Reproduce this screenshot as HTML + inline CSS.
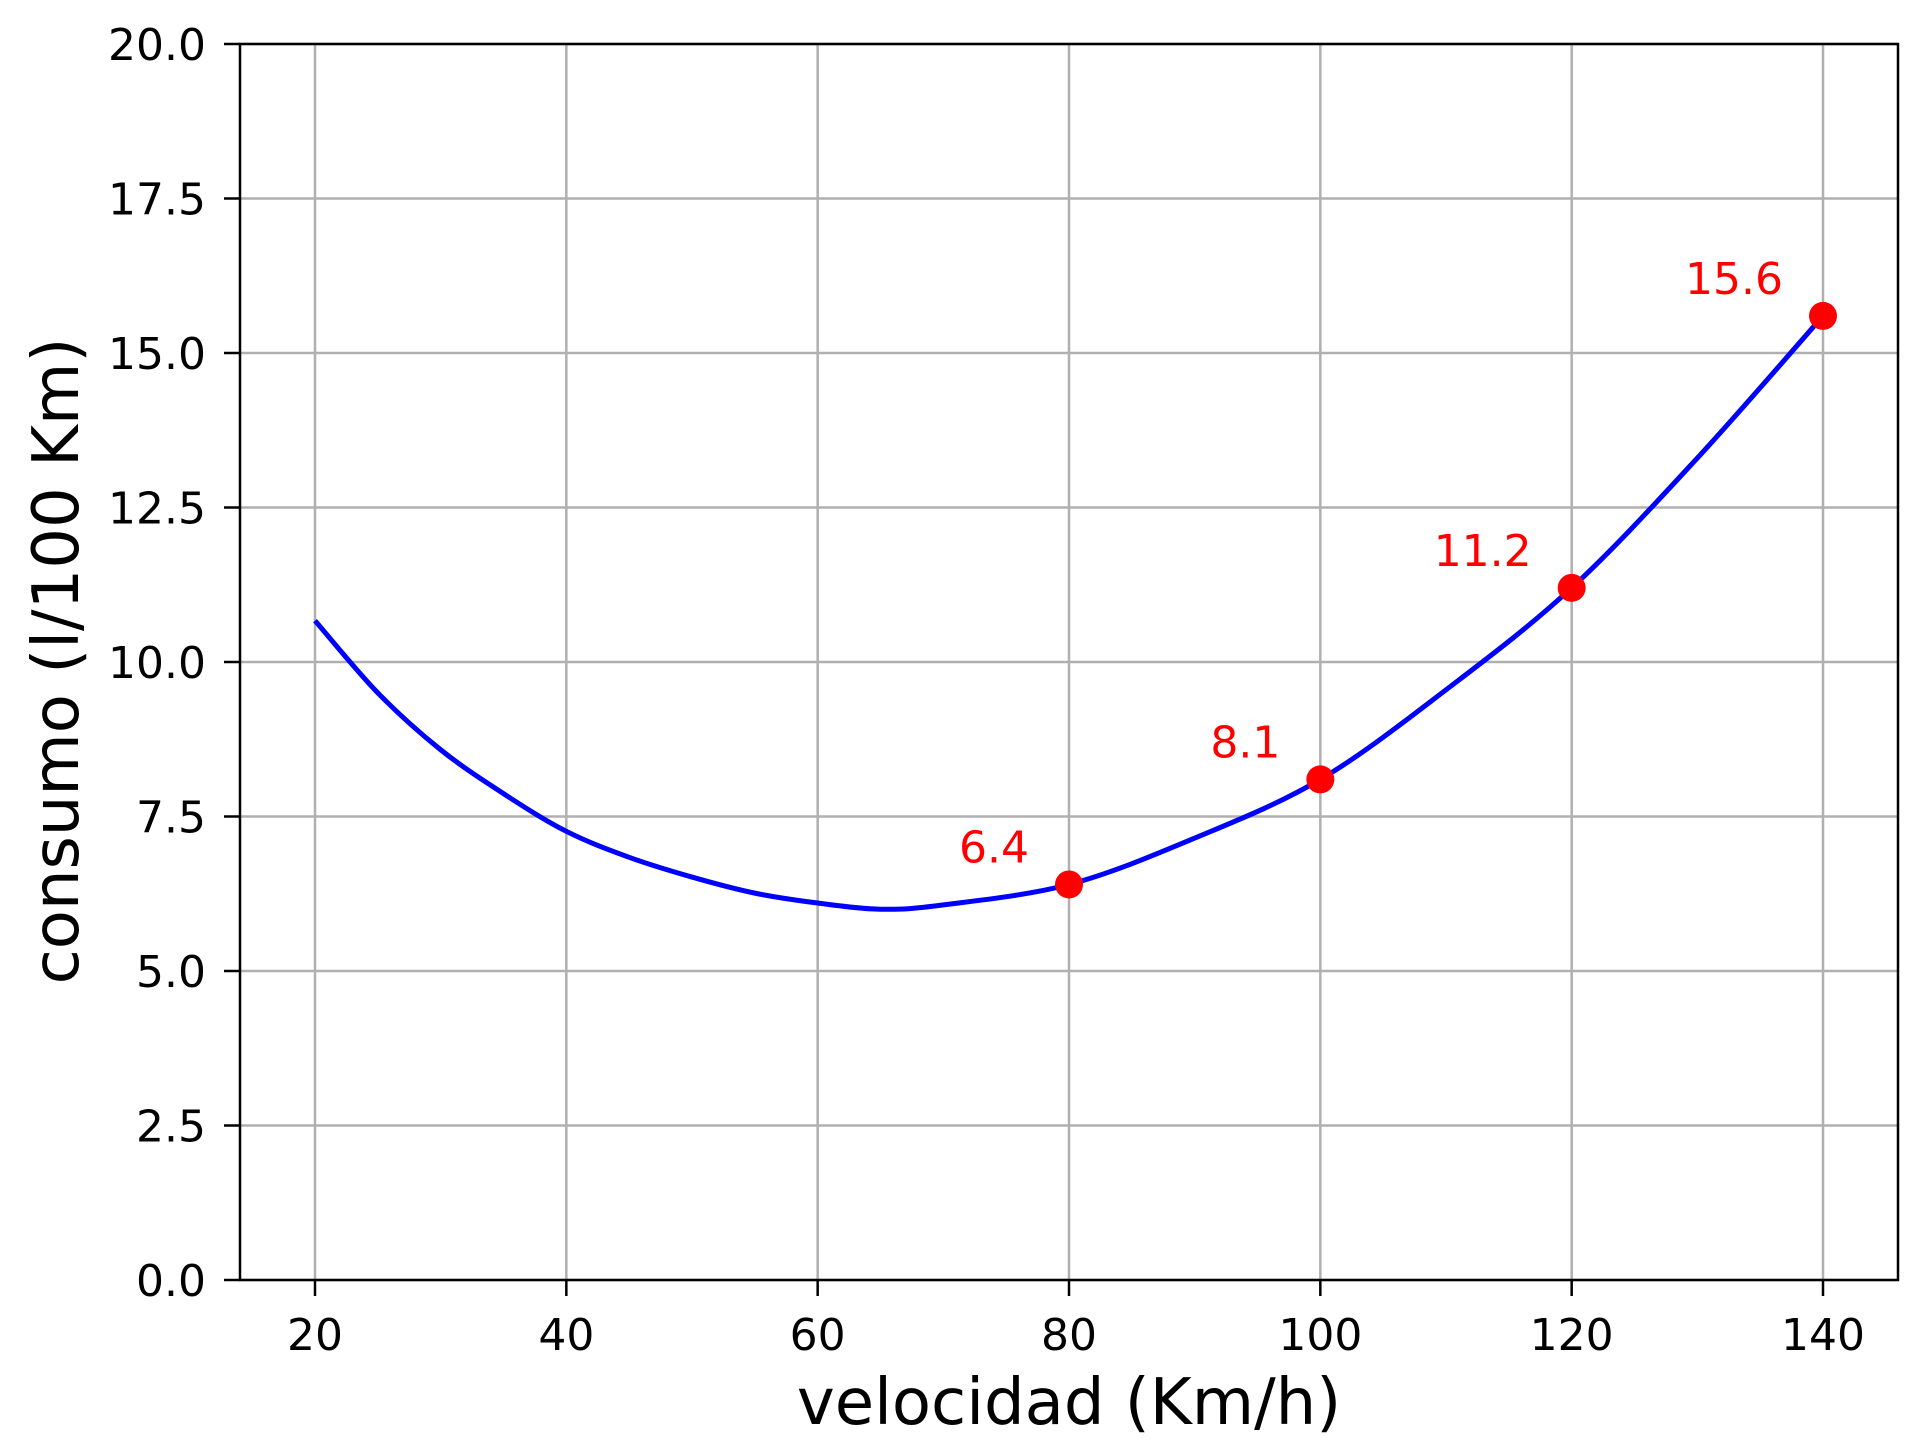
<!DOCTYPE html>
<html><head><meta charset="utf-8"><style>
html,body{margin:0;padding:0;background:#fff;}
svg{display:block;font-family:"DejaVu Sans","Liberation Sans",sans-serif;}
</style></head><body>
<svg id="chart" width="1920" height="1447" viewBox="0 0 1920 1447" xmlns="http://www.w3.org/2000/svg">
<g id="grid"></g>
<g id="curve"></g>
<g id="points"></g>
<rect x="240" y="44" width="1658" height="1236" fill="none" stroke="#000" stroke-width="2.5"/>
<g id="ticks"></g>
<text x="1069" y="1424" font-size="64" text-anchor="middle">velocidad (Km/h)</text>
<text x="0" y="0" font-size="64" text-anchor="middle" transform="translate(78,661) rotate(-90)">consumo (l/100 Km)</text>
</svg>
<script>
const xTicks=[20,40,60,80,100,120,140];
const yTicks=[0,2.5,5,7.5,10,12.5,15,17.5,20];
const yTickLabels=["0.0","2.5","5.0","7.5","10.0","12.5","15.0","17.5","20.0"];
const curveX=[20,25,30,35,40,45,50,55,60,65,70,80,90,100,110,120,130,140];
const curveY=[10.67,9.5,8.58,7.87,7.26,6.84,6.52,6.26,6.1,6.0,6.07,6.4,7.15,8.1,9.55,11.2,13.3,15.6];
const pointX=[80,100,120,140];
const pointY=[6.4,8.1,11.2,15.6];
const pointLabels=["6.4","8.1","11.2","15.6"];
const NS="http://www.w3.org/2000/svg";
const X=v=>315+(v-20)*(1823-315)/120;
const Y=v=>1280-v*(1280-44)/20;
function mk(tag,attrs,parent){const e=document.createElementNS(NS,tag);for(const k in attrs)e.setAttribute(k,attrs[k]);parent.appendChild(e);return e;}
const grid=document.getElementById('grid'),ticks=document.getElementById('ticks');
xTicks.forEach(v=>{
 const g=mk('line',{x1:X(v),x2:X(v),y1:44,y2:1280,stroke:'#b0b0b0','stroke-width':2.5},grid);
 
 
 const t=mk('line',{x1:X(v),x2:X(v),y1:1280,y2:1296,stroke:'#000','stroke-width':2.5},ticks);
 
 
 const l=mk('text',{x:X(v),y:1350,'font-size':44,'text-anchor':'middle'},ticks);
 l.textContent=v;
 
 
});
yTicks.forEach((v,i)=>{
 const g=mk('line',{x1:240,x2:1898,y1:Y(v),y2:Y(v),stroke:'#b0b0b0','stroke-width':2.5},grid);
 
 
 const t=mk('line',{x1:224,x2:240,y1:Y(v),y2:Y(v),stroke:'#000','stroke-width':2.5},ticks);
 
 
 const l=mk('text',{x:206,y:Y(v)+16,'font-size':44,'text-anchor':'end'},ticks);
 l.textContent=yTickLabels[i];
 
 
});
const P=curveX.map((x,i)=>[X(x),Y(curveY[i])]);
let d='M'+P[0][0]+','+P[0][1];
for(let i=0;i<P.length-1;i++){
 const p0=P[i-1]||P[i],p1=P[i],p2=P[i+1],p3=P[i+2]||P[i+1];
 d+=' C'+(p1[0]+(p2[0]-p0[0])/6)+','+(p1[1]+(p2[1]-p0[1])/6)+' '+(p2[0]-(p3[0]-p1[0])/6)+','+(p2[1]-(p3[1]-p1[1])/6)+' '+p2[0]+','+p2[1];
}
const c=mk('path',{d:d,fill:'none',stroke:'#0000ff','stroke-width':5},document.getElementById('curve'));


const pts=document.getElementById('points');
pointX.forEach((x,i)=>{
 const m=mk('circle',{cx:X(x),cy:Y(pointY[i]),r:14,fill:'#ff0000'},pts);
 
 
 const l=mk('text',{x:X(x)-40,y:Y(pointY[i])-22,'font-size':44,'text-anchor':'end',fill:'#ff0000'},pts);
 l.textContent=pointLabels[i];
 
 
});
</script>
</body></html>
